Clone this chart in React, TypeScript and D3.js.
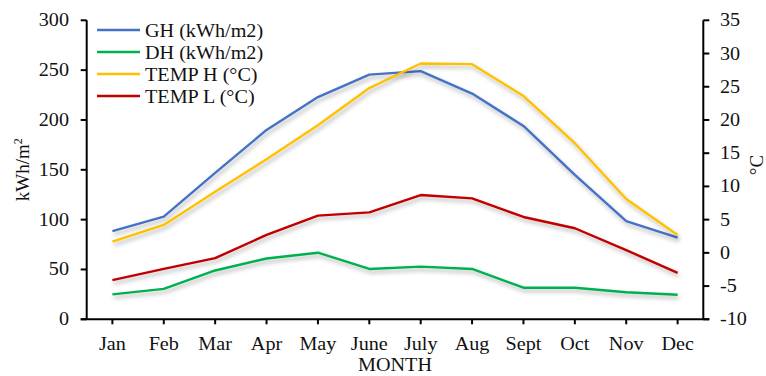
import React from "react";
import * as d3 from "d3";

const months = ["Jan", "Feb", "Mar", "Apr", "May", "June", "July", "Aug", "Sept", "Oct", "Nov", "Dec"];
const gh = [88.5, 103, 147, 190, 223, 245.5, 249, 226.5, 194, 145, 98.6, 82];
const dh = [25, 30.5, 49, 61, 66.8, 50.5, 52.8, 50.5, 31.7, 31.7, 27.1, 24.7];
const tempH = [1.7, 4.2, 9.2, 14.1, 19.2, 24.8, 28.5, 28.4, 23.6, 16.5, 8.1, 2.7];
const tempL = [-4.1, -2.4, -0.8, 2.7, 5.6, 6.1, 8.7, 8.2, 5.4, 3.7, 0.4, -3.0];
const leftTicks = [0, 50, 100, 150, 200, 250, 300];
const rightTicks = [-10, -5, 0, 5, 10, 15, 20, 25, 30, 35];
const legendItems = ["GH (kWh/m2)", "DH (kWh/m2)", "TEMP H (°C)", "TEMP L (°C)"];
const colors = ["#4472C4", "#00B050", "#FFC000", "#C00000"];

const W = 766, H = 376;
const left = 86.7, right = 703.3, top = 20.3, bottom = 319.3;
const font = "'Liberation Serif', 'Times New Roman', serif";
const FS = 18;
const SX = 1.12;

function T({ x, y, anchor = "start", children, size = FS }: any) {
  return (
    <text transform={`translate(${x},${y}) scale(${SX},1)`} textAnchor={anchor} fontFamily={font} fontSize={size} fill="#111">
      {children}
    </text>
  );
}

export default function App() {
  const x = d3.scaleBand<string>().domain(months).range([left, right]);
  const yL = d3.scaleLinear().domain([0, 300]).range([bottom, top]);
  const yR = d3.scaleLinear().domain([-10, 35]).range([bottom, top]);
  const cx = (m: string) => (x(m) as number) + x.bandwidth() / 2;
  const lineL = d3.line<number>().x((_, i) => cx(months[i])).y((d) => yL(d));
  const lineR = d3.line<number>().x((_, i) => cx(months[i])).y((d) => yR(d));
  const series = [
    { d: lineL(gh), c: colors[0] },
    { d: lineL(dh), c: colors[1] },
    { d: lineR(tempH), c: colors[2] },
    { d: lineR(tempL), c: colors[3] },
  ];
  return (
    <svg width={W} height={H} style={{ position: "absolute", left: 0, top: 0, background: "#fff" }}>
      <defs>
        <filter id="sh" x="-10%" y="-10%" width="120%" height="140%">
          <feDropShadow dx="1.5" dy="3" stdDeviation="2" floodColor="#000" floodOpacity="0.3" />
        </filter>
      </defs>
      {series.map((s, i) => (
        <path key={i} d={s.d || ""} fill="none" stroke={s.c} strokeWidth={2.4} strokeLinejoin="round" filter="url(#sh)" />
      ))}
      {/* left axis */}
      <line x1={left} x2={left} y1={top} y2={bottom} stroke="#000" strokeWidth={2} />
      {leftTicks.map((t) => (
        <g key={t}>
          <line x1={left - 6} x2={left} y1={yL(t)} y2={yL(t)} stroke="#000" strokeWidth={2} />
          <T x={69} y={yL(t) + 6} anchor="end">{t}</T>
        </g>
      ))}
      {/* right axis */}
      <line x1={right} x2={right} y1={top} y2={bottom} stroke="#000" strokeWidth={2} />
      {rightTicks.map((t) => (
        <g key={t}>
          <line x1={right} x2={right + 6} y1={yR(t)} y2={yR(t)} stroke="#000" strokeWidth={2} />
          <T x={720} y={yR(t) + 6}>{t}</T>
        </g>
      ))}
      {/* bottom axis */}
      <line x1={left - 6} x2={right + 6} y1={bottom} y2={bottom} stroke="#000" strokeWidth={2} />
      {months.map((m) => (
        <g key={m}>
          <line x1={cx(m)} x2={cx(m)} y1={bottom} y2={bottom + 5} stroke="#000" strokeWidth={2} />
          <T x={cx(m)} y={350} anchor="middle">{m}</T>
        </g>
      ))}
      <T x={(left + right) / 2} y={371} anchor="middle">MONTH</T>
      {/* axis titles */}
      <text transform={`translate(29,${(top + bottom) / 2}) rotate(-90)`} textAnchor="middle" fontFamily={font} fontSize={19} fill="#111">
        kWh/m<tspan dy={-7} fontSize={12}>2</tspan>
      </text>
      <text transform={`translate(763,165) rotate(-90)`} textAnchor="middle" fontFamily={font} fontSize={19} fill="#111">
        °C
      </text>
      {/* legend */}
      {legendItems.map((l, i) => (
        <g key={l}>
          <line x1={97} x2={140} y1={30 + i * 22} y2={30 + i * 22} stroke={colors[i]} strokeWidth={2.4} />
          <T x={145} y={36.5 + i * 22}>{l}</T>
        </g>
      ))}
    </svg>
  );
}
